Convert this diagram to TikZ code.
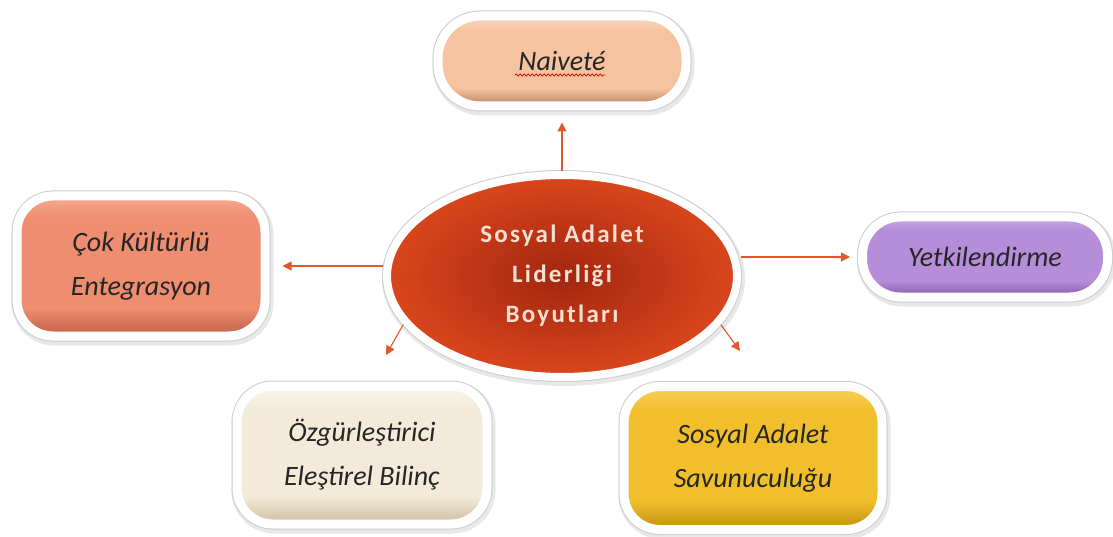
\documentclass[tikz,border=0pt]{standalone}
\usepackage{fontspec}
\setmainfont{Carlito}
\newfontfamily\hubfont[LetterSpace=9]{Carlito}
\usetikzlibrary{arrows.meta,shapes.geometric,decorations.pathmorphing}

\definecolor{linkred}{HTML}{E2572D}
\definecolor{hubtext}{HTML}{F6E0D2}
\definecolor{hubin}{HTML}{A22610}
\definecolor{hubout}{HTML}{DA461C}
\colorlet{bxtop}{white}
\colorlet{bxmid}{white}
\colorlet{bxbot}{gray}

% bevelled fill: darker band at the bottom, light rim at the top
% (the shaded path spans 25bp..75bp of the shading)
\pgfdeclareverticalshading[bxtop,bxmid,bxbot]{bevel}{100bp}{%
  color(0bp)=(bxbot); color(28bp)=(bxbot); color(35bp)=(bxmid);
  color(67bp)=(bxmid); color(75bp)=(bxtop); color(100bp)=(bxtop)}

\tikzset{
  boxcol/.code args={#1/#2/#3}{%
    \definecolor{bxtop}{HTML}{#1}\definecolor{bxmid}{HTML}{#2}\definecolor{bxbot}{HTML}{#3}},
  dimbox/.style={rectangle, rounded corners=36pt, shading=bevel,
    draw=white, line width=9pt, inner sep=0pt, align=center,
    font=\fontsize{28}{44}\selectfont\itshape, text=black!85,
    preaction={draw=black!9, line width=14pt,
      transform canvas={shift={(1.5pt,-2.5pt)}}},
    preaction={draw=black!20, line width=11pt}},
  hub/.style={ellipse, draw=white, line width=8pt, inner sep=0pt,
    inner color=hubin, outer color=hubout,
    minimum width=350pt, minimum height=202pt, align=center,
    font=\hubfont\bfseries\fontsize{25}{40}\selectfont, text=hubtext,
    preaction={draw=black!9, line width=13pt,
      transform canvas={shift={(1.5pt,-2.5pt)}}},
    preaction={draw=black!20, line width=10pt}},
  link/.style={draw=linkred, line width=1.1pt,
    -{Triangle[length=9pt,width=9pt]}},
  spell/.style={draw=red!85!black, line width=0.7pt,
    decorate, decoration={snake, amplitude=1.1pt, segment length=4pt}}
}

\begin{document}
\begin{tikzpicture}[x=1pt,y=-1pt]
\useasboundingbox (0,0) rectangle (1113,537);
\fill[white] (0,0) rectangle (1113,537);

% central concept
\node[hub] (hub) at (562,276) {Sosyal Adalet\\Liderliği\\Boyutları};

% dimensions
\node[dimbox, boxcol=FAD9C2/F5C3A0/CC9674, rounded corners=42pt,
      minimum width=248pt, minimum height=90pt] (naive) at (562,61) {Naiveté};
\node[dimbox, boxcol=F7AA92/EE8D70/CC6C52,
      minimum width=248pt, minimum height=140pt] (cok) at (141,266) {Çok Kültürlü\\Entegrasyon};
\node[dimbox, boxcol=CCA9E6/B68DD8/9268B4, rounded corners=38pt,
      minimum width=245pt, minimum height=80pt] (yetki) at (985,257) {Yetkilendirme};
\node[dimbox, boxcol=FAF6EC/F3EADA/D8CAAE,
      minimum width=250pt, minimum height=138pt] (ozgur) at (362,455) {Özgürleştirici\\Eleştirel Bilinç};
\node[dimbox, boxcol=F8D25C/F1BF2C/CC9C18,
      minimum width=258pt, minimum height=143pt] (savun) at (753,458) {Sosyal Adalet\\Savunuculuğu};

% spelling mark under the top label
\draw[spell] ([shift={(-47pt,-14pt)}]naive.center) -- ([shift={(43pt,-14pt)}]naive.center);

% arrow ends that stop short of the lower boxes
\coordinate (dl) at (386,355);
\coordinate (dr) at (740,351);

% connectors
\draw[link, shorten >=12pt] (hub.north) -- (naive.south);
\draw[link, shorten >=13pt] (hub.west |- cok.east) -- (cok.east);
\draw[link, shorten >=8pt] (hub.east |- yetki.west) -- (yetki.west);
\draw[link] (hub.197) -- (dl);
\draw[link] (hub.-17) -- (dr);
\end{tikzpicture}
\end{document}
